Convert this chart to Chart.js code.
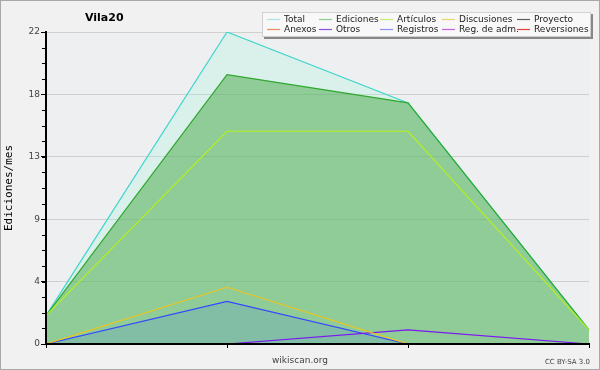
<!DOCTYPE html>
<html>
<head>
<meta charset="utf-8">
<script src="https://cdn.jsdelivr.net/npm/chart.js@4/dist/chart.umd.min.js"></script>
<style>
  html, body { margin: 0; padding: 0; background: #f1f1f1; }
  #wrap { width: 600px; height: 370px; position: relative; }
</style>
</head>
<body>
<div id="wrap"><canvas id="c" width="600" height="370"></canvas></div>
<script>
// ---- data ----
const categories = ['2023-01', '2023-02', '2023-03', '2023-04'];
const total       = [2, 22, 17, 1];
const ediciones   = [2, 19, 17, 1];
const articulos   = [2, 15, 15, 1];
const discusiones = [0, 4, 0, 0];
const proyecto    = [0, 0, 0, 0];
const anexos      = [0, 0, 0, 0];
const otros       = [0, 0, 1, 0];
const registros   = [0, 3, 0, 0];
const regAdm      = [0, 0, 0, 0];
const reversiones = [0, 0, 0, 0];
const seriesNames = ['Total', 'Ediciones', 'Artículos', 'Discusiones', 'Proyecto',
                     'Anexos', 'Otros', 'Registros', 'Reg. de adm.', 'Reversiones'];
const yMajorTicks  = [0, 4.4, 8.8, 13.2, 17.6, 22];
const yTickLabels  = ['0', '4', '9', '13', '18', '22'];
const yMinorStep   = 1.1;
const yMax = 22;

const colors = {
  'Total': '#3fd6cc', 'Ediciones': '#2ea82e', 'Artículos': '#b4f01e', 'Discusiones': '#f0c418',
  'Proyecto': '#555555', 'Anexos': '#f07840', 'Otros': '#7a18f0', 'Registros': '#3446ff',
  'Reg. de adm.': '#c040e0', 'Reversiones': '#e02828'
};
const legendColors = {
  'Total': '#a8e6e6', 'Ediciones': '#8ccc8c', 'Artículos': '#c8f070', 'Discusiones': '#f0d070',
  'Proyecto': '#606060', 'Anexos': '#f08a60', 'Otros': '#8a50e0', 'Registros': '#8a90f0',
  'Reg. de adm.': '#c860e0', 'Reversiones': '#e04040'
};
const values = [total, ediciones, articulos, discusiones, proyecto, anexos, otros, registros, regAdm, reversiones];
const fills = {
  'Total': 'rgba(171,242,218,0.3)',
  'Ediciones': 'rgba(70,168,70,0.5)',
  'Registros': 'rgba(40,90,255,0.13)'
};
const orders = { 'Total': 3, 'Ediciones': 2, 'Registros': 1 };

const datasets = seriesNames.map((name, i) => ({
  label: name,
  data: values[i],
  borderColor: colors[name],
  backgroundColor: fills[name] || 'transparent',
  fill: fills[name] ? 'origin' : false,
  borderWidth: 1.2,
  pointRadius: 0,
  pointHoverRadius: 0,
  tension: 0,
  order: orders[name] || 0
}));

const decor = {
  id: 'decor',
  beforeDraw(chart) {
    const ctx = chart.ctx, a = chart.chartArea;
    ctx.save();
    ctx.fillStyle = '#f1f1f1';
    ctx.fillRect(0, 0, chart.width, chart.height);
    ctx.fillStyle = '#eeeff1';
    ctx.fillRect(a.left, a.top, a.right - a.left, a.bottom - a.top);
    ctx.restore();
  },
  afterDraw(chart) {
    const ctx = chart.ctx;
    const ys = chart.scales.y;
    ctx.save();
    // minor ticks
    ctx.strokeStyle = '#000';
    ctx.lineWidth = 1;
    for (let v = 0; v <= yMax + 1e-9; v += yMinorStep) {
      const py = Math.round(ys.getPixelForValue(v)) + 0.5;
      ctx.beginPath();
      ctx.moveTo(42, py);
      ctx.lineTo(46, py);
      ctx.stroke();
    }
    // title
    ctx.fillStyle = '#000';
    ctx.font = 'bold 11px "DejaVu Sans"';
    ctx.textBaseline = 'alphabetic';
    ctx.textAlign = 'left';
    ctx.fillText('Vila20', 85, 21);
    // legend box
    ctx.fillStyle = '#888888';
    ctx.fillRect(264, 14, 329, 25);
    ctx.fillStyle = '#f8f8f8';
    ctx.fillRect(262, 12, 329, 25);
    ctx.strokeStyle = '#d0d0d0';
    ctx.strokeRect(262.5, 12.5, 328, 24);
    const colX = [267, 319, 380, 442, 517];
    const rowY = [19.5, 29.5];
    ctx.font = '9px "DejaVu Sans"';
    ctx.textBaseline = 'middle';
    seriesNames.forEach((name, i) => {
      const r = Math.floor(i / 5), c = i % 5;
      const x = colX[c], y = rowY[r];
      ctx.strokeStyle = legendColors[name];
      ctx.lineWidth = 1.2;
      ctx.beginPath();
      ctx.moveTo(x, y);
      ctx.lineTo(x + 13, y);
      ctx.stroke();
      ctx.fillStyle = '#222';
      ctx.fillText(name, x + 17, y);
    });
    // footer
    ctx.fillStyle = '#444';
    ctx.font = '9px "DejaVu Sans"';
    ctx.textAlign = 'center';
    ctx.fillText('wikiscan.org', 300, 361);
    ctx.font = '7px "DejaVu Sans"';
    ctx.textAlign = 'right';
    ctx.fillText('CC BY-SA 3.0', 590, 362);
    // outer border
    ctx.strokeStyle = '#a8a8a8';
    ctx.lineWidth = 1;
    ctx.strokeRect(0.5, 0.5, chart.width - 1, chart.height - 1);
    ctx.restore();
  }
};

Chart.defaults.font.family = '"DejaVu Sans"';

new Chart(document.getElementById('c'), {
  type: 'line',
  data: { labels: categories, datasets },
  options: {
    responsive: false,
    animation: false,
    devicePixelRatio: 1,
    layout: { padding: { left: 0, right: 11, top: 32, bottom: 0 } },
    plugins: {
      legend: { display: false },
      title: { display: false },
      tooltip: { enabled: false },
      filler: { drawTime: 'beforeDatasetsDraw' }
    },
    scales: {
      x: {
        type: 'category',
        offset: false,
        afterFit(s) { s.height = 26; },
        grid: { drawOnChartArea: false, drawTicks: true, tickLength: 4, tickColor: '#000', tickWidth: 1 },
        border: { display: true, color: '#000', width: 2, z: 1 },
        ticks: { callback: () => '', autoSkip: false }
      },
      y: {
        min: 0,
        max: yMax,
        afterFit(s) { s.width = 46; },
        afterBuildTicks(s) { s.ticks = yMajorTicks.map(v => ({ value: v })); },
        grid: { color: '#cfcfcf', lineWidth: 1, drawTicks: true, tickLength: 5, tickColor: '#000' },
        border: { display: true, color: '#000', width: 2, z: 1 },
        ticks: {
          autoSkip: false,
          padding: 1,
          color: '#444',
          font: { size: 9 },
          callback: (v, i) => yTickLabels[i]
        },
        title: {
          display: true,
          text: 'Ediciones/mes',
          color: '#000',
          font: { family: '"DejaVu Sans Mono"', size: 11 },
          padding: { top: 3, bottom: 0 }
        }
      }
    }
  },
  plugins: [decor]
});
</script>
</body>
</html>
